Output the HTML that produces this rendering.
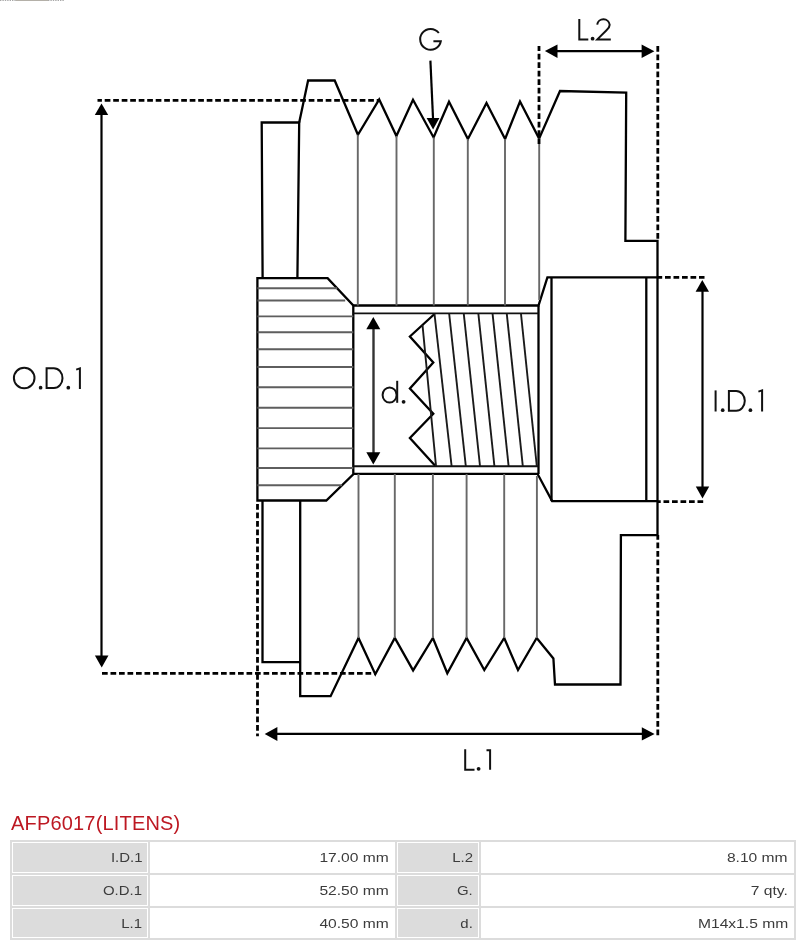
<!DOCTYPE html>
<html><head><meta charset="utf-8">
<style>
html,body{margin:0;padding:0;background:#fff;width:809px;height:946px;overflow:hidden;position:relative;font-family:"Liberation Sans",sans-serif;}
svg.dr{position:absolute;left:0;top:0;}
.title{will-change:transform;position:absolute;left:11px;top:808.7px;font-size:20px;letter-spacing:0.18px;color:#bd1822;white-space:nowrap;line-height:28px;}
table.spec{position:absolute;left:10px;top:840px;border-collapse:separate;border-spacing:2px;background:#dcdcdc;}
table.spec td{box-sizing:border-box;border:1px solid #fff;padding:0 5px 0 0;height:31px;font-size:13px;color:#3c3c3c;text-align:right;white-space:nowrap;}
table.spec tr.last td{height:30px;}
table.spec td span{display:inline-block;transform-origin:100% 50%;will-change:transform;}
table.spec td.v span{transform:scaleX(1.2);}
table.spec td.l{padding-right:5px;}
table.spec td.l span{transform:scaleX(1.15);}
table.spec td.l{background:#dcdcdc;}
table.spec td.v{background:#fff;}
</style></head>
<body>
<svg class="dr" width="809" height="800" viewBox="0 0 809 800">
 <path d="M0,0.5 H16 M48,0.5 H64" stroke="#a8a8a8" stroke-width="1" stroke-dasharray="1.4 1"/>
 <path d="M16,0.5 H48" stroke="#b4b0a8" stroke-width="1"/>
 <g fill="none" stroke="#000" stroke-width="2.3" stroke-linejoin="miter">
  <!-- left narrow rect top -->
  <path d="M262.6,278 L261.7,122.5 H299.2 L297.4,278"/>
  <!-- outer profile -->
  <path d="M299.2,122.5 L308.1,80.5 L334.7,80.5 L357.9,134.8 L379.2,99.5 L396.4,136.1 L413,99.8 L433.6,137.5 L449,101.7 L467.9,139 L486.5,103 L505.1,139 L520,101.5 L539.1,138.6 L560,91 L626.2,92.5 L625.4,240.8 L657.5,240.8 L657.5,535.2 L620.9,535.2 L620.5,684.5 L555,684.5 L553.4,658.5 L536.7,638 L518,670 L504.2,638 L484.3,670 L466.6,638 L447.3,673.3 L432.9,638 L413.1,670.4 L394.8,638 L375.3,674.2 L358.5,637.9 L330.6,696.2 L300.2,696.2 L300.2,500.5"/>
  <!-- left narrow rect bottom -->
  <path d="M262.5,500.5 V662.2 H300.2"/>
  <!-- knurl block -->
  <path d="M257.4,278.1 H327.6 L353.3,305.5 V474.3 L326.3,500.5 H257.4 Z"/>
  <!-- bore -->
  <path d="M353.3,305.5 H538.5 L547.4,277.4 H657.5"/>
  <path d="M353.3,473.8 H537.5 L552.1,501.1 H657.5"/>
  <path d="M538.5,305.5 V474"/>
  <!-- hub verticals -->
  <path d="M551.5,277.2 V501.1"/>
  <path d="M646.3,277.2 V501.1"/>
  <!-- thread zigzag -->
  <path d="M434.5,314 L409.9,336.5 L433.3,362.5 L409.9,388.6 L433.3,413.8 L409.9,438 L435.4,466"/>
 </g>
 <!-- bore inner lines -->
 <g fill="none" stroke="#111" stroke-width="1.9">
  <path d="M353.3,313.4 H538.5"/>
  <path d="M353.3,466.2 H538.5"/>
 </g>
 <!-- thread lines -->
 <g fill="none" stroke="#1a1a1a" stroke-width="1.9">
  <path d="M422.5,325 L436,466"/>
  <path d="M434.5,314 L451.6,466"/>
  <path d="M449.2,314 L465.8,466"/>
  <path d="M463.8,314 L480,466"/>
  <path d="M478.4,314 L494.4,466"/>
  <path d="M492.6,314 L508.6,466"/>
  <path d="M506.8,314 L522.8,466"/>
  <path d="M521,314 L536.8,466"/>
 </g>
 <!-- knurl lines -->
 <g fill="none" stroke="#5e5e5e" stroke-width="1.9">
  <path d="M257.4,288.3 H337.2"/>
  <path d="M257.4,300.5 H345.2"/>
  <path d="M257.4,316.4 H353.3 M257.4,332.2 H353.3 M257.4,349.2 H353.3 M257.4,367 H353.3 M257.4,387.3 H353.3 M257.4,407.8 H353.3 M257.4,428.1 H353.3 M257.4,448.4 H353.3 M257.4,468 H353.3"/>
  <path d="M257.4,485.2 H342.1"/>
 </g>
 <!-- groove lines -->
 <g fill="none" stroke="#686868" stroke-width="1.9">
  <path d="M357.8,134.8 V305.5 M396.5,136 V305.5 M433.8,137.5 V305.5 M467.8,139 V305.5 M505,139 V305.5 M539.2,138.6 V300"/>
  <path d="M358.5,474 V638 M394.8,474 V638 M432.9,474 V638 M466.6,474 V638 M504.2,474 V638 M536.9,476 V638"/>
 </g>
 <!-- dashed dimension lines -->
 <g fill="none" stroke="#000" stroke-width="2.8" stroke-dasharray="5.7 2.8">
  <path d="M97.5,100.3 H379" stroke-dashoffset="1.3"/>
  <path d="M102,673.3 H375"/>
  <path d="M539,46 V144" stroke-dashoffset="0.7"/>
  <path d="M657.8,46 V241"/>
  <path d="M657.8,535 V736" stroke-dashoffset="1"/>
  <path d="M257.5,502 V736.3" stroke-dashoffset="6.5"/>
  <path d="M657.5,277.4 H704.5" stroke-dashoffset="1"/>
  <path d="M657.5,501.7 H703.5" stroke-dashoffset="2.5"/>
 </g>
 <!-- arrows -->
 <g stroke="#000" stroke-width="2.2" fill="none">
  <path d="M101.5,110 V665"/>
  <path d="M550,51.2 H650"/>
  <path d="M270,733.9 H650"/>
  <path d="M702.5,288 V490"/>
  <path d="M430.4,60.6 L433.1,120"/>
 </g>
 <g stroke="#333" stroke-width="2.4" fill="none">
  <path d="M373.5,325 V456"/>
 </g>
 <g fill="#000" stroke="none">
  <path d="M101.5,103.4 L108.2,114.9 L94.8,114.9 Z"/>
  <path d="M101.7,667.4 L108.5,655.5 L94.9,655.5 Z"/>
  <path d="M544.9,51.1 L557.5,44.4 L557.5,57.9 Z"/>
  <path d="M654.4,51.2 L641.6,44.5 L641.6,57.9 Z"/>
  <path d="M264.7,733.9 L277.4,726.9 L277.4,740.9 Z"/>
  <path d="M654.6,733.9 L641.8,727.2 L641.8,740.6 Z"/>
  <path d="M702.3,280.1 L709,291.8 L695.6,291.8 Z"/>
  <path d="M702.5,498.6 L709.2,486.5 L695.8,486.5 Z"/>
  <path d="M433.1,129.4 L439.4,118 L426.6,118 Z"/>
  <path d="M373.3,317 L380.3,329.2 L366.3,329.2 Z"/>
  <path d="M373.3,464.4 L380.3,452.2 L366.3,452.2 Z"/>
 </g>
 <!-- labels drawn as strokes -->
 <g fill="none" stroke="#111" stroke-width="2" stroke-linecap="butt">
  <!-- O.D.1 -->
  <circle cx="24.2" cy="378" r="10.3"/>
  <path d="M46.6,368.3 H53.9 A8.6,9.85 0 0 1 53.9,388 H46.6 Z"/>
  <path d="M79.9,388.9 V368.4 L76.2,369.6"/>
  <!-- I.D.1 -->
  <path d="M715.6,390.4 V411.5"/>
  <path d="M728.9,390.9 H736.2 A8.6,9.9 0 0 1 736.2,410.7 H728.9 Z"/>
  <path d="M762.1,411.5 V390.4 L758.4,391.6"/>
  <!-- L.1 -->
  <path d="M465.2,749.3 V769.7 H474.5"/>
  <path d="M490.1,769.7 V750.2 H486.5"/>
  <!-- L.2 -->
  <path d="M579.3,18.9 V39.6 H588.3"/>
  <path d="M597.2,24.6 A6.3,6.2 0 0 1 609.7,24.8 Q609.7,27.5 606.5,30.3 L597.3,39.4 H610.8"/>
  <!-- G -->
  <path d="M438.8,33 A10.4,10.4 0 1 0 440.8,41.2 H433.4"/>
  <!-- d. -->
  <ellipse cx="389.6" cy="395" rx="7" ry="7.6"/>
  <path d="M397.2,380.8 V402.8"/>
 </g>
 <g fill="#111">
  <circle cx="40.6" cy="387.7" r="1.85"/>
  <circle cx="68.3" cy="387.7" r="1.85"/>
  <circle cx="722.7" cy="410.2" r="1.85"/>
  <circle cx="750.4" cy="410.2" r="1.85"/>
  <circle cx="478.6" cy="768.8" r="1.9"/>
  <circle cx="592.6" cy="38.7" r="1.9"/>
  <circle cx="403.6" cy="401.8" r="1.9"/>
 </g>
</svg>
<div class="title">AFP6017(LITENS)</div>
<table class="spec">
 <tr><td class="l" style="width:136px"><span>I.D.1</span></td><td class="v" style="width:245px"><span>17.00 mm</span></td><td class="l" style="width:82px"><span>L.2</span></td><td class="v" style="width:313px"><span>8.10 mm</span></td></tr>
 <tr><td class="l"><span>O.D.1</span></td><td class="v"><span>52.50 mm</span></td><td class="l"><span>G.</span></td><td class="v"><span>7 qty.</span></td></tr>
 <tr class="last"><td class="l"><span>L.1</span></td><td class="v"><span>40.50 mm</span></td><td class="l"><span>d.</span></td><td class="v"><span>M14x1.5 mm</span></td></tr>
</table>
</body></html>
